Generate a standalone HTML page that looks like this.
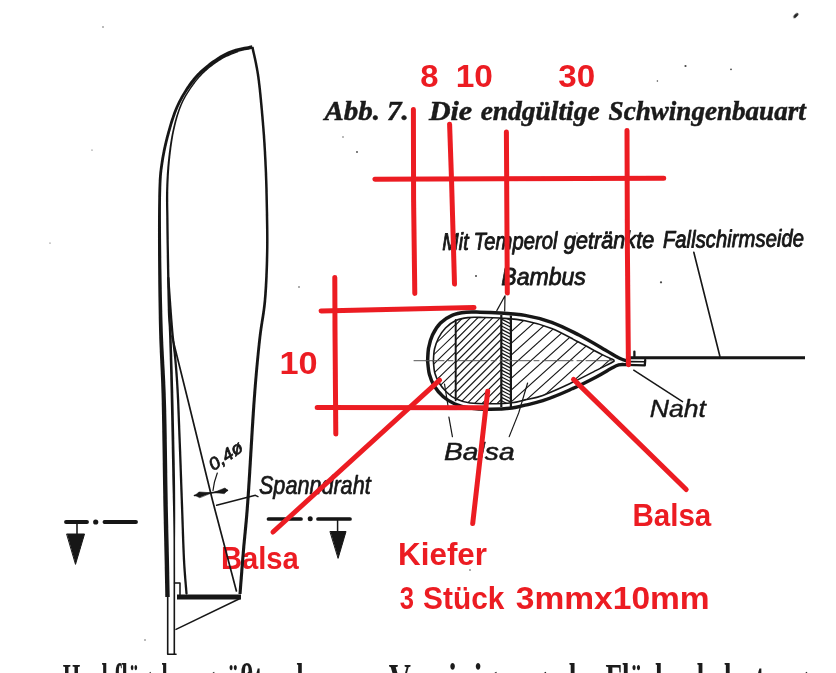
<!DOCTYPE html>
<html><head><meta charset="utf-8">
<style>
html,body{margin:0;padding:0;background:#fff;}
body{width:836px;height:673px;overflow:hidden;position:relative;font-family:"Liberation Sans",sans-serif;}
svg{position:absolute;left:0;top:0;display:block;}
text{font-family:"Liberation Sans",sans-serif;}
.ser{font-family:"Liberation Serif",serif;}
.hand{font-family:"Liberation Sans",sans-serif;font-style:italic;fill:#161616;stroke:#161616;stroke-width:0.75px;stroke-linejoin:round;}
.red{font-family:"Liberation Sans",sans-serif;font-weight:bold;fill:#ec1c24;}
.serbi{font-family:"Liberation Serif",serif;font-weight:bold;font-style:italic;fill:#1a1a1a;stroke:#1a1a1a;stroke-width:0.5px;}
.serb{font-family:"Liberation Serif",serif;font-weight:bold;fill:#1c1c1c;}
</style></head><body>
<svg width="836" height="673" viewBox="0 0 836 673">
<defs><filter id="soft" x="-2%" y="-2%" width="104%" height="104%"><feGaussianBlur stdDeviation="0.45"/></filter><filter id="softr" x="-2%" y="-2%" width="104%" height="104%"><feGaussianBlur stdDeviation="0.35"/></filter></defs>
<rect width="836" height="673" fill="#fff"/>
<g filter="url(#softr)">
<text class="red" transform="translate(420.32,86.60) scale(1.0250,1.000)" font-size="32.0" >8</text>
<text class="red" transform="translate(455.69,86.60) scale(1.0468,1.000)" font-size="32.0" >10</text>
<text class="red" transform="translate(558.24,86.60) scale(1.0367,1.000)" font-size="32.0" >30</text>
<text class="red" transform="translate(279.54,373.50) scale(1.0714,1.000)" font-size="32.0" >10</text>
<text class="red" transform="translate(632.38,526.30) scale(0.9243,1.000)" font-size="32.0" >Balsa</text>
<text class="red" transform="translate(220.90,568.70) scale(0.9124,1.000)" font-size="32.0" >Balsa</text>
<text class="red" transform="translate(398.06,564.60) scale(0.9812,1.000)" font-size="32.0" >Kiefer</text>
<text class="red" transform="translate(399.69,609.00) scale(0.8000,1.000)" font-size="32.0" >3</text>
<text class="red" transform="translate(423.05,609.00) scale(0.9329,1.000)" font-size="32.0" >Stück</text>
<text class="red" transform="translate(515.83,609.00) scale(1.0482,1.000)" font-size="32.0" >3mmx10mm</text>
</g>
<g filter="url(#soft)">
<g fill="none" stroke="#161616" stroke-linecap="round" stroke-linejoin="round">
<path fill="#161616" stroke="none" d="M252.01 45.34 L250.94 45.58 L249.60 45.85 L248.00 46.15 L246.20 46.48 L244.22 46.86 L242.13 47.28 L239.95 47.75 L237.73 48.27 L235.51 48.85 L233.32 49.49 L231.21 50.20 L229.22 50.97 L227.33 51.82 L225.44 52.74 L223.54 53.72 L221.66 54.76 L219.78 55.86 L217.93 57.00 L216.09 58.17 L214.29 59.38 L212.52 60.61 L210.79 61.86 L209.11 63.12 L207.47 64.38 L205.89 65.64 L204.36 66.91 L202.86 68.20 L201.40 69.50 L199.97 70.83 L198.57 72.19 L197.20 73.58 L195.84 75.03 L194.51 76.52 L193.18 78.07 L191.87 79.68 L190.57 81.35 L189.27 83.09 L187.98 84.89 L186.69 86.75 L185.42 88.66 L184.25 90.67 L183.00 92.67 L181.79 94.71 L180.60 96.79 L179.45 98.91 L178.33 101.05 L177.25 103.22 L176.22 105.42 L175.24 107.67 L174.30 109.97 L173.39 112.32 L172.53 114.71 L171.70 117.13 L170.90 119.58 L170.13 122.04 L169.39 124.50 L168.67 126.96 L167.98 129.41 L167.30 131.84 L166.65 134.23 L166.01 136.62 L165.40 139.02 L164.80 141.42 L164.24 143.82 L163.69 146.22 L163.17 148.61 L162.68 151.00 L162.21 153.38 L161.77 155.75 L161.36 158.12 L160.97 160.46 L160.62 162.79 L160.29 164.99 L160.00 167.01 L159.75 168.89 L159.52 170.72 L159.32 172.54 L159.14 174.40 L158.99 176.38 L158.85 178.53 L158.72 180.90 L158.61 183.55 L158.50 186.55 L158.40 189.96 L158.31 193.75 L158.23 197.84 L158.17 202.19 L158.10 206.80 L158.06 211.64 L158.02 216.68 L158.00 221.91 L157.98 227.30 L157.98 232.83 L157.98 238.47 L158.00 244.21 L158.02 250.01 L158.05 256.01 L158.08 262.31 L158.13 268.85 L158.19 275.58 L158.25 282.45 L158.33 289.40 L158.42 296.39 L158.52 303.37 L158.63 310.27 L158.75 317.06 L158.88 323.67 L159.03 330.05 L159.20 336.15 L159.39 341.97 L159.61 347.59 L159.84 353.06 L160.08 358.45 L160.33 363.85 L160.58 369.31 L160.83 374.91 L161.07 380.71 L161.29 386.79 L161.49 393.22 L161.67 400.06 L161.83 407.46 L161.97 415.44 L162.12 423.87 L162.27 432.63 L162.41 441.60 L162.55 450.66 L162.68 459.68 L162.81 468.55 L162.93 477.14 L163.05 485.33 L163.18 493.01 L163.30 500.04 L163.42 506.52 L163.55 512.63 L163.67 518.40 L163.79 523.86 L163.90 529.05 L164.01 533.99 L164.12 538.71 L164.23 543.24 L164.33 547.60 L164.42 551.84 L164.51 555.98 L164.60 560.05 L164.68 564.05 L164.76 567.97 L164.83 571.78 L164.90 575.45 L164.97 578.96 L165.03 582.29 L165.09 585.41 L165.14 588.30 L165.19 590.93 L165.23 593.28 L165.27 595.33 L165.30 597.04 L169.70 596.96 L169.67 595.24 L169.63 593.20 L169.59 590.85 L169.54 588.22 L169.49 585.33 L169.43 582.21 L169.37 578.88 L169.30 575.37 L169.23 571.69 L169.16 567.88 L169.08 563.96 L169.00 559.95 L168.91 555.89 L168.82 551.74 L168.73 547.50 L168.63 543.13 L168.52 538.61 L168.41 533.89 L168.30 528.95 L168.18 523.77 L168.07 518.30 L167.95 512.54 L167.82 506.43 L167.70 499.96 L167.58 492.93 L167.45 485.27 L167.33 477.08 L167.21 468.49 L167.08 459.62 L166.95 450.59 L166.81 441.53 L166.67 432.56 L166.52 423.79 L166.34 415.35 L166.14 407.36 L165.93 399.94 L165.70 393.08 L165.45 386.63 L165.18 380.54 L164.90 374.72 L164.61 369.12 L164.32 363.65 L164.03 358.26 L163.75 352.87 L163.48 347.41 L163.22 341.82 L162.98 336.02 L162.77 329.95 L162.58 323.57 L162.40 316.97 L162.23 310.20 L162.07 303.30 L161.92 296.33 L161.78 289.35 L161.65 282.40 L161.54 275.53 L161.43 268.81 L161.34 262.28 L161.25 255.98 L161.18 249.99 L161.12 244.18 L161.06 238.45 L161.02 232.81 L160.98 227.29 L160.96 221.91 L160.94 216.69 L160.94 211.65 L160.95 206.83 L160.98 202.23 L161.03 197.88 L161.11 193.81 L161.20 190.04 L161.30 186.64 L161.41 183.66 L161.52 181.03 L161.64 178.69 L161.78 176.58 L161.93 174.65 L162.11 172.82 L162.30 171.04 L162.52 169.26 L162.78 167.39 L163.06 165.40 L163.38 163.21 L163.74 160.90 L164.12 158.58 L164.53 156.25 L164.96 153.91 L165.43 151.55 L165.91 149.19 L166.43 146.82 L166.96 144.45 L167.53 142.08 L168.11 139.70 L168.72 137.33 L169.35 134.97 L170.00 132.58 L170.67 130.17 L171.36 127.74 L172.07 125.30 L172.81 122.86 L173.56 120.43 L174.35 118.02 L175.17 115.64 L176.02 113.30 L176.90 111.00 L177.82 108.76 L178.78 106.58 L179.78 104.44 L180.83 102.32 L181.92 100.22 L183.04 98.16 L184.21 96.12 L185.40 94.13 L186.61 92.17 L187.93 90.32 L189.19 88.47 L190.47 86.67 L191.75 84.93 L193.03 83.25 L194.31 81.64 L195.60 80.10 L196.89 78.62 L198.19 77.20 L199.50 75.82 L200.84 74.49 L202.20 73.19 L203.59 71.92 L205.01 70.68 L206.47 69.45 L207.98 68.23 L209.53 67.02 L211.13 65.80 L212.78 64.59 L214.47 63.39 L216.20 62.20 L217.96 61.04 L219.75 59.92 L221.55 58.83 L223.36 57.79 L225.18 56.80 L227.00 55.87 L228.80 55.01 L230.58 54.23 L232.41 53.52 L234.37 52.87 L236.44 52.27 L238.58 51.73 L240.73 51.23 L242.85 50.78 L244.91 50.37 L246.86 50.01 L248.66 49.67 L250.28 49.37 L251.67 49.10 L252.79 48.86 Z"/>
<path fill="#161616" stroke="none" d="M237.73 50.85 L236.97 51.17 L236.02 51.55 L234.90 51.98 L233.64 52.46 L232.26 52.99 L230.80 53.57 L229.28 54.19 L227.72 54.86 L226.15 55.56 L224.60 56.31 L223.09 57.09 L221.65 57.90 L220.24 58.74 L218.80 59.65 L217.34 60.60 L215.86 61.59 L214.38 62.62 L212.90 63.68 L211.43 64.78 L209.98 65.89 L208.55 67.03 L207.16 68.17 L205.82 69.33 L204.53 70.48 L203.29 71.64 L202.09 72.81 L200.92 73.99 L199.78 75.19 L198.68 76.40 L197.59 77.64 L196.53 78.89 L195.49 80.17 L194.46 81.48 L193.44 82.82 L192.43 84.19 L191.43 85.60 L190.43 87.02 L189.43 88.47 L188.44 89.94 L187.46 91.43 L186.49 92.95 L185.54 94.51 L184.60 96.10 L183.69 97.72 L182.80 99.40 L181.94 101.12 L181.10 102.88 L180.30 104.70 L179.53 106.57 L178.78 108.49 L178.07 110.45 L177.38 112.45 L176.71 114.50 L176.07 116.58 L175.45 118.70 L174.85 120.86 L174.27 123.05 L173.71 125.28 L173.18 127.53 L172.66 129.82 L172.16 132.15 L171.68 134.55 L171.22 136.99 L170.79 139.48 L170.37 142.01 L169.98 144.55 L169.61 147.12 L169.25 149.69 L168.92 152.27 L168.60 154.83 L168.30 157.38 L168.02 159.90 L167.76 162.40 L167.52 164.91 L167.30 167.42 L167.10 169.93 L166.92 172.43 L166.76 174.94 L166.61 177.45 L166.48 179.95 L166.37 182.46 L166.27 184.96 L166.17 187.47 L166.09 189.97 L166.03 192.48 L165.99 194.99 L165.96 197.50 L165.96 200.01 L165.98 202.51 L166.01 205.02 L166.05 207.52 L166.09 210.02 L166.14 212.52 L166.18 215.02 L166.22 217.52 L166.25 220.01 L166.27 222.42 L166.30 224.66 L166.32 226.81 L166.34 228.90 L166.36 230.99 L166.39 233.14 L166.42 235.39 L166.45 237.79 L166.49 240.41 L166.53 243.28 L166.59 246.47 L166.65 250.02 L166.72 254.08 L166.79 258.69 L166.87 263.73 L166.96 269.10 L167.06 274.67 L167.15 280.34 L167.25 285.99 L167.36 291.51 L167.46 296.78 L167.57 301.71 L167.67 306.16 L167.77 310.04 L167.87 313.23 L167.97 315.78 L168.07 317.84 L168.17 319.53 L168.27 320.97 L168.37 322.29 L168.47 323.61 L168.58 325.08 L168.69 326.83 L168.80 328.98 L168.92 331.68 L169.04 335.04 L169.16 338.95 L169.30 343.15 L169.43 347.66 L169.57 352.45 L169.72 357.51 L169.86 362.85 L170.01 368.45 L170.16 374.29 L170.31 380.39 L170.46 386.71 L170.60 393.26 L170.75 400.03 L170.91 407.26 L171.08 415.13 L171.26 423.50 L171.44 432.25 L171.62 441.24 L171.79 450.34 L171.97 459.42 L172.13 468.36 L172.29 477.02 L172.47 485.26 L172.67 492.97 L172.83 500.02 L172.97 506.30 L173.09 511.93 L173.18 517.01 L173.26 521.69 L173.33 526.09 L173.38 530.35 L173.43 534.58 L173.47 538.93 L173.48 543.51 L173.49 548.47 L173.49 553.92 L173.50 560.00 L173.51 566.97 L173.52 574.85 L173.52 583.41 L173.52 592.44 L173.52 601.71 L173.52 611.00 L173.52 620.08 L173.51 628.72 L173.51 636.71 L173.50 643.82 L173.50 649.82 L173.50 654.50 L175.10 654.50 L175.10 649.82 L175.10 643.82 L175.11 636.71 L175.11 628.72 L175.12 620.08 L175.12 611.00 L175.12 601.71 L175.12 592.44 L175.12 583.41 L175.12 574.85 L175.11 566.97 L175.10 560.00 L175.09 553.92 L175.09 548.47 L175.08 543.51 L175.09 538.93 L175.13 534.58 L175.16 530.34 L175.18 526.08 L175.20 521.68 L175.21 517.00 L175.20 511.90 L175.19 506.28 L175.17 499.98 L175.13 492.94 L175.08 485.22 L174.98 476.97 L174.83 468.31 L174.67 459.37 L174.49 450.29 L174.32 441.18 L174.13 432.19 L173.96 423.45 L173.78 415.08 L173.61 407.21 L173.45 399.97 L173.29 393.20 L173.12 386.65 L172.95 380.32 L172.79 374.22 L172.62 368.37 L172.46 362.78 L172.30 357.44 L172.15 352.37 L171.99 347.58 L171.84 343.07 L171.70 338.86 L171.56 334.96 L171.43 331.58 L171.31 328.86 L171.19 326.69 L171.07 324.92 L170.96 323.43 L170.85 322.09 L170.75 320.78 L170.65 319.36 L170.54 317.71 L170.44 315.67 L170.34 313.14 L170.23 309.96 L170.12 306.10 L170.00 301.65 L169.89 296.73 L169.77 291.46 L169.65 285.94 L169.53 280.29 L169.42 274.62 L169.31 269.05 L169.21 263.69 L169.11 258.65 L169.03 254.04 L168.95 249.98 L168.89 246.43 L168.83 243.25 L168.79 240.37 L168.75 237.76 L168.72 235.36 L168.69 233.11 L168.66 230.97 L168.64 228.88 L168.62 226.79 L168.60 224.64 L168.57 222.39 L168.55 219.99 L168.52 217.48 L168.48 214.98 L168.44 212.48 L168.39 209.98 L168.35 207.48 L168.31 204.98 L168.28 202.49 L168.26 199.99 L168.24 197.50 L168.24 195.01 L168.27 192.52 L168.31 190.03 L168.37 187.53 L168.44 185.04 L168.52 182.54 L168.62 180.05 L168.73 177.55 L168.85 175.06 L168.99 172.57 L169.15 170.07 L169.33 167.58 L169.52 165.09 L169.74 162.60 L169.98 160.10 L170.24 157.59 L170.52 155.05 L170.81 152.50 L171.13 149.94 L171.46 147.37 L171.81 144.82 L172.18 142.29 L172.57 139.78 L172.98 137.30 L173.41 134.87 L173.87 132.50 L174.34 130.18 L174.84 127.91 L175.36 125.67 L175.89 123.46 L176.45 121.29 L177.02 119.15 L177.62 117.04 L178.24 114.98 L178.88 112.95 L179.55 110.97 L180.24 109.03 L180.96 107.14 L181.70 105.30 L182.47 103.50 L183.28 101.76 L184.12 100.07 L184.98 98.42 L185.87 96.82 L186.77 95.24 L187.70 93.71 L188.65 92.20 L189.61 90.72 L190.59 89.26 L191.58 87.82 L192.57 86.40 L193.57 85.01 L194.57 83.66 L195.57 82.34 L196.58 81.05 L197.61 79.79 L198.66 78.55 L199.72 77.34 L200.81 76.14 L201.92 74.97 L203.07 73.81 L204.25 72.66 L205.47 71.52 L206.74 70.38 L208.06 69.24 L209.43 68.11 L210.84 67.00 L212.27 65.89 L213.73 64.82 L215.19 63.76 L216.65 62.74 L218.11 61.76 L219.55 60.83 L220.97 59.94 L222.35 59.10 L223.75 58.32 L225.22 57.56 L226.74 56.83 L228.28 56.14 L229.82 55.48 L231.32 54.87 L232.77 54.29 L234.14 53.76 L235.40 53.28 L236.52 52.85 L237.49 52.47 L238.27 52.15 Z"/>
<path fill="#161616" stroke="none" d="M251.18 47.35 L251.47 48.78 L251.85 50.48 L252.29 52.44 L252.78 54.62 L253.32 57.02 L253.88 59.59 L254.46 62.34 L255.05 65.22 L255.62 68.21 L256.17 71.30 L256.69 74.46 L257.16 77.67 L257.60 81.05 L258.04 84.68 L258.48 88.53 L258.90 92.55 L259.32 96.68 L259.73 100.89 L260.13 105.13 L260.51 109.35 L260.87 113.50 L261.22 117.54 L261.55 121.42 L261.85 125.10 L262.14 128.60 L262.40 131.99 L262.64 135.28 L262.87 138.49 L263.08 141.64 L263.27 144.73 L263.45 147.79 L263.63 150.83 L263.79 153.86 L263.95 156.90 L264.10 159.96 L264.25 163.06 L264.40 166.13 L264.53 169.12 L264.65 172.04 L264.77 174.94 L264.87 177.82 L264.97 180.73 L265.06 183.68 L265.15 186.70 L265.23 189.82 L265.30 193.06 L265.38 196.46 L265.45 200.02 L265.53 203.79 L265.61 207.74 L265.69 211.84 L265.77 216.06 L265.84 220.38 L265.91 224.77 L265.97 229.20 L266.01 233.64 L266.03 238.07 L266.03 242.45 L266.01 246.76 L265.95 250.98 L265.86 255.16 L265.76 259.36 L265.64 263.57 L265.50 267.77 L265.35 271.97 L265.17 276.13 L264.98 280.26 L264.76 284.34 L264.52 288.35 L264.26 292.29 L263.98 296.14 L263.67 299.88 L263.32 303.45 L262.94 306.80 L262.53 309.98 L262.09 313.06 L261.63 316.08 L261.14 319.10 L260.65 322.16 L260.15 325.31 L259.65 328.61 L259.15 332.09 L258.67 335.83 L258.20 339.84 L257.74 344.02 L257.29 348.23 L256.85 352.51 L256.40 356.90 L255.96 361.42 L255.51 366.12 L255.06 371.02 L254.60 376.17 L254.14 381.60 L253.66 387.34 L253.18 393.42 L252.69 399.89 L252.18 406.99 L251.64 414.83 L251.10 423.26 L250.55 432.13 L250.00 441.27 L249.44 450.53 L248.89 459.76 L248.35 468.80 L247.82 477.48 L247.30 485.67 L246.81 493.19 L246.35 499.89 L245.92 505.82 L245.50 511.17 L245.10 516.03 L244.72 520.46 L244.34 524.54 L243.98 528.35 L243.63 531.97 L243.29 535.48 L242.95 538.95 L242.62 542.45 L242.29 546.07 L241.96 549.87 L241.62 553.89 L241.28 558.06 L240.93 562.33 L240.59 566.62 L240.26 570.86 L239.93 575.00 L239.62 578.97 L239.33 582.69 L239.06 586.11 L238.83 589.16 L238.62 591.77 L238.45 593.88 L241.55 594.12 L241.71 592.01 L241.92 589.40 L242.15 586.35 L242.42 582.94 L242.71 579.21 L243.02 575.25 L243.35 571.11 L243.68 566.86 L244.02 562.58 L244.37 558.32 L244.71 554.14 L245.04 550.13 L245.37 546.34 L245.70 542.74 L246.04 539.24 L246.37 535.78 L246.72 532.27 L247.07 528.65 L247.43 524.83 L247.80 520.73 L248.19 516.29 L248.59 511.42 L249.01 506.05 L249.45 500.11 L249.91 493.39 L250.40 485.86 L250.91 477.67 L251.44 468.98 L251.98 459.95 L252.53 450.72 L253.09 441.46 L253.64 432.32 L254.19 423.46 L254.72 415.03 L255.22 407.20 L255.71 400.11 L256.18 393.65 L256.64 387.57 L257.09 381.84 L257.53 376.42 L257.97 371.28 L258.41 366.38 L258.84 361.69 L259.27 357.18 L259.69 352.80 L260.13 348.53 L260.56 344.32 L261.00 340.16 L261.45 336.16 L261.92 332.47 L262.40 329.00 L262.89 325.73 L263.37 322.59 L263.86 319.53 L264.33 316.50 L264.78 313.46 L265.22 310.34 L265.63 307.12 L266.00 303.72 L266.33 300.12 L266.63 296.34 L266.90 292.47 L267.15 288.51 L267.38 284.48 L267.58 280.39 L267.76 276.24 L267.92 272.06 L268.07 267.86 L268.19 263.64 L268.29 259.42 L268.38 255.21 L268.45 251.02 L268.51 246.79 L268.53 242.46 L268.53 238.06 L268.51 233.62 L268.47 229.17 L268.41 224.73 L268.34 220.34 L268.27 216.01 L268.19 211.79 L268.10 207.69 L268.02 203.74 L267.95 199.98 L267.88 196.40 L267.80 193.01 L267.73 189.76 L267.65 186.63 L267.56 183.60 L267.47 180.65 L267.37 177.73 L267.26 174.84 L267.15 171.94 L267.03 169.01 L266.89 166.02 L266.75 162.94 L266.60 159.84 L266.44 156.77 L266.29 153.73 L266.12 150.69 L265.95 147.65 L265.77 144.58 L265.57 141.48 L265.36 138.32 L265.14 135.10 L264.89 131.80 L264.63 128.40 L264.35 124.90 L264.04 121.22 L263.71 117.33 L263.36 113.28 L263.00 109.13 L262.62 104.90 L262.22 100.66 L261.81 96.44 L261.39 92.29 L260.96 88.26 L260.53 84.39 L260.08 80.73 L259.64 77.33 L259.16 74.08 L258.64 70.88 L258.08 67.76 L257.50 64.73 L256.91 61.83 L256.33 59.07 L255.76 56.48 L255.22 54.07 L254.73 51.89 L254.29 49.94 L253.92 48.25 L253.62 46.85 Z"/>
<path stroke-width="1.6" d="M167.7 597 L167.7 654.3 L176 654.3"/>
<path stroke-width="2.3" d="M168.3 278.0 C168.6 282.5 169.5 295.5 170.2 305.0 C170.9 314.5 171.7 325.8 172.6 335.0 C173.5 344.2 174.5 349.2 175.4 360.0 C176.3 370.8 177.0 376.7 178.1 400.0 C179.2 423.3 180.8 473.3 181.8 500.0 C182.8 526.7 183.2 544.4 184.0 560.0 C184.8 575.6 186.1 587.9 186.5 593.5"/>
<path stroke-width="1.7" d="M172 336 L187.9 400 L212.4 500 L236.4 591"/>
<path stroke-width="4.8" stroke-linecap="butt" d="M177 597 L241 597"/>
<path stroke-width="1.5" d="M174.5 583 L180 583 L180 596"/>
<path stroke-width="1.5" d="M240 598.5 L176 629.4"/>
<path stroke-width="1.6" d="M194.5 495.5 L227.4 490.4"/>
<path fill="#161616" stroke-width="0.6" d="M211.5 492.8 L199 492 L195 495.4 L199.5 497.6 Z M214 492.4 L225 488 L227.6 490.3 L224.5 493.4 Z"/>
<path stroke-width="1.2" d="M217.3 473 C215 479 213.6 485 213 490.5"/>
<path stroke-width="1.4" d="M216.6 505.3 L255.4 495.3 L258 496.6"/>
<path stroke-width="3.9" d="M66 522 L87 522 M104.5 522 L136 522"/>
<circle cx="95.7" cy="522" r="2.6" fill="#161616" stroke="none"/>
<path stroke-width="1.6" d="M77 523 L77 535"/>
<path fill="#161616" stroke-width="1" d="M67 534 L84.5 534 L75.6 564 Z"/>
<path stroke-width="3.7" d="M268.5 519 L301 519 M318 519 L350 519"/>
<circle cx="310.2" cy="518.8" r="2.5" fill="#161616" stroke="none"/>
<path stroke-width="1.5" d="M337.6 520 L337.6 532"/>
<path fill="#161616" stroke-width="1" d="M330.3 531.5 L346 531.5 L338.2 558 Z"/>
<path stroke-width="3.5" d="M427.6 361.0 C427.8 358.8 427.8 352.3 428.6 348.0 C429.4 343.7 430.5 339.2 432.5 335.0 C434.5 330.8 437.2 326.3 440.5 323.0 C443.8 319.7 447.8 317.1 452.0 315.3 C456.2 313.5 461.3 312.8 466.0 312.3 C470.7 311.8 474.3 312.1 480.0 312.2 C485.7 312.3 492.5 312.5 500.0 313.0 C507.5 313.5 516.4 313.8 525.0 315.4 C533.6 316.9 542.8 319.1 551.7 322.3 C560.6 325.5 569.6 330.2 578.5 334.8 C587.4 339.4 598.5 346.1 605.2 350.0 C612.0 353.9 615.5 356.2 619.0 358.0 C622.5 359.8 624.8 360.2 626.0 360.6"/>
<path stroke-width="3.4" d="M427.6 361.0 C427.9 363.2 428.2 369.8 429.3 374.0 C430.4 378.2 432.0 382.2 434.3 386.0 C436.6 389.8 439.6 393.5 443.0 396.5 C446.4 399.5 450.5 402.1 455.0 404.0 C459.5 405.9 464.2 407.1 470.0 408.0 C475.8 408.9 483.0 409.2 490.0 409.2 C497.0 409.2 506.2 408.7 512.0 408.0 C517.8 407.3 519.9 406.4 525.0 405.2 C530.1 404.0 535.4 403.2 542.8 400.7 C550.2 398.2 560.7 394.0 569.6 390.0 C578.5 386.0 589.4 380.5 596.3 376.9 C603.2 373.3 607.3 370.6 611.0 368.6 C614.7 366.6 616.2 365.6 618.7 364.9 C621.2 364.2 624.8 364.7 626.0 364.6"/>
<path stroke-width="1.6" d="M433.4 361.0 C433.6 359.0 433.6 352.8 434.5 349.0 C435.4 345.2 436.7 341.5 438.5 338.0 C440.3 334.5 442.6 330.9 445.5 328.0 C448.4 325.1 452.1 322.2 455.8 320.5 C459.6 318.8 464.0 318.1 468.0 317.6 C472.0 317.1 474.7 317.3 480.0 317.4 C485.3 317.5 492.5 317.4 500.0 318.0 C507.5 318.6 516.4 318.9 525.0 320.7 C533.6 322.4 542.8 324.9 551.7 328.5 C560.6 332.1 570.2 337.7 578.5 342.0 C586.8 346.3 595.8 351.4 601.7 354.4 C607.6 357.4 612.0 359.2 614.0 360.2"/>
<path stroke-width="1.6" d="M433.4 361.0 C433.6 363.0 433.8 369.2 434.8 373.0 C435.8 376.8 437.5 380.2 439.5 383.5 C441.5 386.8 444.3 389.9 447.0 392.5 C449.7 395.1 452.0 397.1 455.8 398.8 C459.6 400.6 464.3 402.2 470.0 403.0 C475.7 403.8 483.0 403.8 490.0 403.8 C497.0 403.8 506.2 403.5 512.0 402.8 C517.8 402.1 519.9 401.1 525.0 399.9 C530.1 398.7 535.4 398.1 542.8 395.4 C550.2 392.7 560.7 388.0 569.6 383.8 C578.5 379.6 589.9 373.6 596.3 370.4 C602.7 367.2 605.0 366.0 608.0 364.5 C611.0 363.0 613.0 361.8 614.0 361.2"/>
<defs>
<clipPath id="af"><path d="M433.4 361.0 C433.6 359.0 433.6 352.8 434.5 349.0 C435.4 345.2 436.7 341.5 438.5 338.0 C440.3 334.5 442.6 330.9 445.5 328.0 C448.4 325.1 452.1 322.2 455.8 320.5 C459.6 318.8 464.0 318.1 468.0 317.6 C472.0 317.1 474.7 317.3 480.0 317.4 C485.3 317.5 492.5 317.4 500.0 318.0 C507.5 318.6 516.4 318.9 525.0 320.7 C533.6 322.4 542.8 324.9 551.7 328.5 C560.6 332.1 570.2 337.7 578.5 342.0 C586.8 346.3 595.8 351.4 601.7 354.4 C607.6 357.4 612.0 359.2 614.0 360.2 L614.0 361.2 C613.0 361.8 611.0 363.0 608.0 364.5 C605.0 366.0 602.7 367.2 596.3 370.4 C589.9 373.6 578.5 379.6 569.6 383.8 C560.7 388.0 550.2 392.7 542.8 395.4 C535.4 398.1 530.1 398.7 525.0 399.9 C519.9 401.1 517.8 402.1 512.0 402.8 C506.2 403.5 497.0 403.8 490.0 403.8 C483.0 403.8 475.7 403.8 470.0 403.0 C464.3 402.2 459.6 400.6 455.8 398.8 C452.0 397.1 449.7 395.1 447.0 392.5 C444.3 389.9 441.5 386.8 439.5 383.5 C437.5 380.2 435.8 376.8 434.8 373.0 C433.8 369.2 433.6 363.0 433.4 361.0 Z"/></clipPath>
<clipPath id="r1"><rect x="420" y="300" width="35.8" height="120"/></clipPath>
<clipPath id="r2"><rect x="455.8" y="300" width="45.5" height="120"/></clipPath>
<clipPath id="r3"><rect x="511.5" y="300" width="120" height="120"/></clipPath>
</defs>
<g clip-path="url(#af)"><g clip-path="url(#r1)"><path stroke-width="1.05" d="M358.0 418.5 L478.0 302.7 M367.6 418.5 L487.6 302.7 M377.2 418.5 L497.2 302.7 M386.8 418.5 L506.8 302.7 M396.4 418.5 L516.4 302.7 M406.0 418.5 L526.0 302.7 M415.6 418.5 L535.6 302.7 M425.2 418.5 L545.2 302.7 M434.8 418.5 L554.8 302.7"/></g></g>
<g clip-path="url(#af)"><g clip-path="url(#r2)"><path stroke-width="1.1" d="M360.0 420.6 L480.0 300.6 M367.5 420.6 L487.5 300.6 M375.0 420.6 L495.0 300.6 M382.5 420.6 L502.5 300.6 M390.0 420.6 L510.0 300.6 M397.5 420.6 L517.5 300.6 M405.0 420.6 L525.0 300.6 M412.5 420.6 L532.5 300.6 M420.0 420.6 L540.0 300.6 M427.5 420.6 L547.5 300.6 M435.0 420.6 L555.0 300.6 M442.5 420.6 L562.5 300.6 M450.0 420.6 L570.0 300.6 M457.5 420.6 L577.5 300.6 M465.0 420.6 L585.0 300.6 M472.5 420.6 L592.5 300.6 M480.0 420.6 L600.0 300.6"/></g></g>
<g clip-path="url(#af)"><g clip-path="url(#r3)"><path stroke-width="1.1" d="M419.0 414.6 L539.0 306.6 M432.0 414.6 L552.0 306.6 M445.0 414.6 L565.0 306.6 M458.0 414.6 L578.0 306.6 M471.0 414.6 L591.0 306.6 M484.0 414.6 L604.0 306.6 M497.0 414.6 L617.0 306.6 M510.0 414.6 L630.0 306.6 M523.0 414.6 L643.0 306.6 M536.0 414.6 L656.0 306.6 M549.0 414.6 L669.0 306.6 M562.0 414.6 L682.0 306.6 M575.0 414.6 L695.0 306.6 M588.0 414.6 L708.0 306.6"/></g></g>
<g clip-path="url(#af)"><path stroke-width="1.2" d="M502 316.0 L510.8 320.5 M502 319.4 L510.8 323.9 M502 322.8 L510.8 327.3 M502 326.2 L510.8 330.7 M502 329.6 L510.8 334.1 M502 333.0 L510.8 337.5 M502 336.4 L510.8 340.9 M502 339.8 L510.8 344.3 M502 343.2 L510.8 347.7 M502 346.6 L510.8 351.1 M502 350.0 L510.8 354.5 M502 353.4 L510.8 357.9 M502 356.8 L510.8 361.3 M502 360.2 L510.8 364.7 M502 363.6 L510.8 368.1 M502 367.0 L510.8 371.5 M502 370.4 L510.8 374.9 M502 373.8 L510.8 378.3 M502 377.2 L510.8 381.7 M502 380.6 L510.8 385.1 M502 384.0 L510.8 388.5 M502 387.4 L510.8 391.9 M502 390.8 L510.8 395.3 M502 394.2 L510.8 398.7 M502 397.6 L510.8 402.1 M502 401.0 L510.8 405.5 M502 404.4 L510.8 408.9"/></g>
<path stroke-width="2.2" stroke-linecap="butt" d="M501.3 315 L501.3 407 M510.9 315.5 L510.9 407"/>
<path stroke-width="1.9" d="M455.7 320 L455.7 400.3"/>
<path stroke="#555" stroke-width="1" stroke-dasharray="30 4 5 4" d="M414 360.7 L612 360.7"/>
<path stroke-width="2.9" stroke-linecap="butt" d="M629 357.8 L805 357.8"/>
<path stroke-width="2.3" d="M626 364.8 L644.8 365.4 L645.2 360 M634.4 351.6 L634.4 357"/>
<path stroke-width="1.6" d="M629 361.6 L644.5 361.8"/>
<path stroke-width="1.6" d="M693.8 252.2 L720 356.8"/>
<path stroke-width="1.5" d="M633.7 370.2 L682.5 401.7"/>
<path stroke-width="1.2" d="M448.9 417.2 L452.4 436.6 M444.5 384 L448.5 409"/>
<path stroke-width="1.2" d="M527.6 383 L518.7 412.9 L509.2 436.6"/>
<path stroke-width="1.2" d="M505 295.8 L496.8 310.6 M505 295.8 L504.7 311"/>
</g>
<text class="hand" transform="translate(442.30,249.90) rotate(-0.6) scale(0.8271,1.000)" font-size="24.0" style="stroke-width:0.9px">Mit</text>
<text class="hand" transform="translate(473.67,249.58) rotate(-0.6) scale(0.8456,1.000)" font-size="24.0" style="stroke-width:0.9px">Temperol</text>
<text class="hand" transform="translate(564.00,248.71) rotate(-0.6) scale(0.9019,1.000)" font-size="24.0" style="stroke-width:0.9px">getränkte</text>
<text class="hand" transform="translate(662.89,247.74) rotate(-0.6) scale(0.8479,1.000)" font-size="24.0" style="stroke-width:0.9px">Fallschirmseide</text>
<text class="hand" transform="translate(501.31,284.60) scale(0.9415,1.000)" font-size="24.5" style="stroke-width:0.85px">Bambus</text>
<text class="hand" transform="translate(649.70,417.30) scale(1.0878,1.000)" font-size="24.5" style="stroke-width:0.4px">Naht</text>
<text class="hand" transform="translate(443.95,459.80) scale(1.1542,1.000)" font-size="24.5" style="stroke-width:0.5px">Balsa</text>
<text class="hand" transform="translate(258.96,494.30) scale(0.8640,1.000)" font-size="25.0" style="stroke-width:0.7px">Spanndraht</text>
<text class="hand" transform="translate(213.45,471.20) rotate(-34.0) scale(1.0751,1.000)" font-size="17.5" >0,4ø</text>
<text class="serbi" transform="translate(324.49,120.30) scale(1.0393,1.000)" font-size="27.8" >Abb. 7.</text>
<text class="serbi" transform="translate(428.90,120.20) scale(1.0779,1.000)" font-size="27.8" >Die</text>
<text class="serbi" transform="translate(480.65,120.20) scale(0.9883,1.000)" font-size="27.8" >endgültige</text>
<text class="serbi" transform="translate(608.59,120.20) scale(0.9744,1.000)" font-size="27.8" >Schwingenbauart</text>
<text class="serb" transform="translate(62.66,694.00) scale(0.8662,1.700)" font-size="26.0" >Hochflügeln</text>
<text class="serb" transform="translate(202.35,694.00) scale(0.9933,1.700)" font-size="26.0" >größter</text>
<text class="serb" transform="translate(288.96,694.00) scale(0.9961,1.700)" font-size="26.0" >davon.</text>
<text class="serb" transform="translate(388.69,694.00) scale(1.1788,1.700)" font-size="26.0" >Vereinigung</text>
<text class="serb" transform="translate(560.90,694.00) scale(1.0553,1.700)" font-size="26.0" >der</text>
<text class="serb" transform="translate(605.59,694.00) scale(1.0387,1.700)" font-size="26.0" >Flächenbelastung</text>
<ellipse cx="795.8" cy="15.5" rx="3.2" ry="1.6" transform="rotate(-45 795.8 15.5)" fill="#222"/>
<circle cx="685.5" cy="66.0" r="1.1" fill="#444"/>
<circle cx="731.0" cy="69.3" r="0.9" fill="#444"/>
<circle cx="657.4" cy="81.0" r="0.8" fill="#444"/>
<circle cx="661.0" cy="282.3" r="1.1" fill="#444"/>
<circle cx="476.0" cy="276.0" r="1.0" fill="#444"/>
<circle cx="577.0" cy="233.0" r="0.8" fill="#444"/>
<circle cx="343.0" cy="137.0" r="0.7" fill="#444"/>
<circle cx="357.0" cy="152.0" r="0.9" fill="#444"/>
<circle cx="103.0" cy="27.0" r="0.7" fill="#444"/>
<circle cx="299.0" cy="287.0" r="0.8" fill="#444"/>
<circle cx="145.0" cy="640.0" r="0.7" fill="#444"/>
<circle cx="788.0" cy="238.0" r="0.7" fill="#444"/>
<circle cx="470.0" cy="570.0" r="0.8" fill="#444"/>
<circle cx="92.0" cy="150.0" r="0.6" fill="#444"/>
<circle cx="50.0" cy="243.0" r="0.6" fill="#444"/>
</g>
<g fill="none" stroke="#ec1c24" stroke-width="5" stroke-linecap="round" filter="url(#softr)">
<path d="M413.4 109.4 L413.6 200 L414.8 293.4"/>
<path d="M449.6 124.3 L451.5 179 L454.5 284"/>
<path d="M506.4 131.9 L507.3 292.9"/>
<path d="M627 130.5 L627.4 250 L628.4 364.8"/>
<path d="M374.9 179.3 L433 179.1 L500 178.7 L663.8 178.3"/>
<path d="M334.8 277.5 L335 330 L335.8 434"/>
<path d="M321.1 311 L474 307.4"/>
<path d="M317.2 407.6 L486 407.7"/>
<path d="M439.6 380.1 L273 532"/>
<path d="M487.7 391.2 L472.7 523.5"/>
<path d="M573.5 379.4 L686.2 489.5"/>
</g>
</svg></body></html>
